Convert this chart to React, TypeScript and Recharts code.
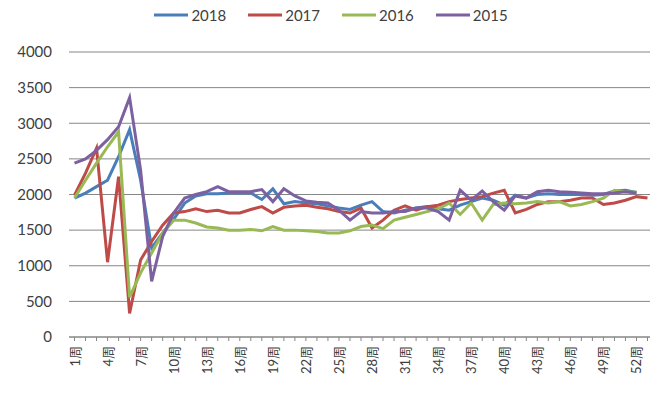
import React from "react";
import { LineChart, Line, XAxis, YAxis, CartesianGrid } from "recharts";

const weeks = [
  "1周", "2周", "3周", "4周", "5周", "6周", "7周", "8周", "9周", "10周",
  "11周", "12周", "13周", "14周", "15周", "16周", "17周", "18周", "19周", "20周",
  "21周", "22周", "23周", "24周", "25周", "26周", "27周", "28周", "29周", "30周",
  "31周", "32周", "33周", "34周", "35周", "36周", "37周", "38周", "39周", "40周",
  "41周", "42周", "43周", "44周", "45周", "46周", "47周", "48周", "49周", "50周",
  "51周", "52周", "53周",
];

const y2018 = [
  1950, 2020, 2110, 2200, 2530, 2910, 2200, 1250, 1460, 1650,
  1880, 1980, 2010, 2010, 2020, 2020, 2020, 1930, 2080, 1870,
  1900, 1880, 1870, 1840, 1810, 1790, 1850, 1900, 1760, 1740,
  1780, 1810, 1830, 1800, 1780, 1850, 1900, 1950, 1920, 1850,
  1990, 1950, 2000, 2010, 2000, 2000, 2000, 1990, 2000, 2050,
  2060, 2030, null,
];

const y2017 = [
  1990, 2300, 2650, 1050, 2250, 330, 1080, 1340, 1570, 1740,
  1760, 1800, 1760, 1780, 1740, 1740, 1790, 1830, 1740, 1820,
  1840, 1850, 1820, 1800, 1760, 1740, 1810, 1530, 1640, 1780,
  1840, 1780, 1830, 1850, 1900, 1930, 1950, 1970, 2020, 2060,
  1740, 1790, 1860, 1900, 1900, 1920, 1950, 1950, 1860, 1880,
  1920, 1970, 1950,
];

const y2016 = [
  1950, 2200, 2440, 2670, 2880, 560, 900, 1180, 1460, 1640,
  1640, 1600, 1545, 1530, 1500, 1500, 1510, 1490, 1550, 1500,
  1500, 1490, 1480, 1460, 1460, 1490, 1550, 1570, 1520, 1640,
  1680, 1720, 1760, 1800, 1880, 1720, 1880, 1640, 1860, 1880,
  1870, 1880, 1900, 1880, 1900, 1840, 1860, 1900, 1950, 2060,
  2040, 2030, null,
];

const y2015 = [
  2440, 2500, 2620, 2770, 2950, 3360, 2340, 780, 1410, 1740,
  1950, 2000, 2040, 2110, 2040, 2040, 2040, 2070, 1900, 2080,
  1980, 1910, 1890, 1880, 1780, 1640, 1760, 1740, 1740, 1760,
  1760, 1810, 1810, 1760, 1640, 2060, 1920, 2050, 1900, 1780,
  1980, 1950, 2040, 2060, 2040, 2030, 2020, 2010, 2010, 2020,
  2040, 2020, null,
];

const yTicks = [0, 500, 1000, 1500, 2000, 2500, 3000, 3500, 4000];

const series = [
  { key: "2018", values: y2018, color: "#4A7EBB" },
  { key: "2017", values: y2017, color: "#BE4B48" },
  { key: "2016", values: y2016, color: "#98B954" },
  { key: "2015", values: y2015, color: "#7D60A0" },
];

const data = weeks.map((w, i) => {
  const row: Record<string, string | number | null> = { week: w };
  series.forEach((s) => {
    row[s.key] = s.values[i];
  });
  return row;
});

const FONT = "Lato, 'Noto Sans CJK SC', sans-serif";
const TEXT = "#404040";
const GRID = "#868686";

function WeekTick(props: any) {
  const { x, y, payload, index } = props;
  if (index % 3 !== 0) return null;
  return (
    <text
      x={x}
      y={y}
      transform={`rotate(-90, ${x}, ${y})`}
      textAnchor="end"
      dominantBaseline="central"
      fontSize={13}
      fontFamily={FONT}
      fill={TEXT}
    >
      {payload.value}
    </text>
  );
}

function Legend() {
  return (
    <div
      style={{
        position: "absolute",
        top: 5,
        left: 0,
        width: 658,
        paddingLeft: 4,
        boxSizing: "border-box",
        display: "flex",
        justifyContent: "center",
        gap: 22,
        fontFamily: FONT,
        fontSize: 15,
        color: TEXT,
      }}
    >
      {series.map((s) => (
        <div key={s.key} style={{ display: "flex", alignItems: "center", gap: 3 }}>
          <svg width={34} height={20}>
            <line x1={0} y1={10} x2={34} y2={10} stroke={s.color} strokeWidth={3} />
          </svg>
          <span>{s.key}</span>
        </div>
      ))}
    </div>
  );
}

export default function App() {
  return (
    <div style={{ position: "relative", width: 658, height: 403, margin: -8, background: "#fff" }}>
      <Legend />
      <LineChart
        width={658}
        height={403}
        data={data}
        margin={{ top: 52, right: 5, bottom: 6, left: 0 }}
      >
        <CartesianGrid vertical={false} stroke={GRID} strokeWidth={1} />
        <XAxis
          dataKey="week"
          interval={0}
          height={60}
          padding={{ left: 5.5, right: 5.5 }}
          tick={<WeekTick />}
          tickSize={4}
          tickMargin={5}
          stroke={GRID}
          axisLine={{ stroke: GRID }}
          tickLine={{ stroke: GRID }}
        />
        <YAxis
          width={69}
          domain={[0, 4000]}
          ticks={yTicks}
          axisLine={false}
          tickLine={false}
          tickMargin={11}
          tick={{ fontSize: 15, fontFamily: FONT, fill: TEXT }}
        />
        {series.map((s) => (
          <Line
            key={s.key}
            type="linear"
            dataKey={s.key}
            stroke={s.color}
            strokeWidth={3}
            dot={false}
            isAnimationActive={false}
          />
        ))}
      </LineChart>
    </div>
  );
}
